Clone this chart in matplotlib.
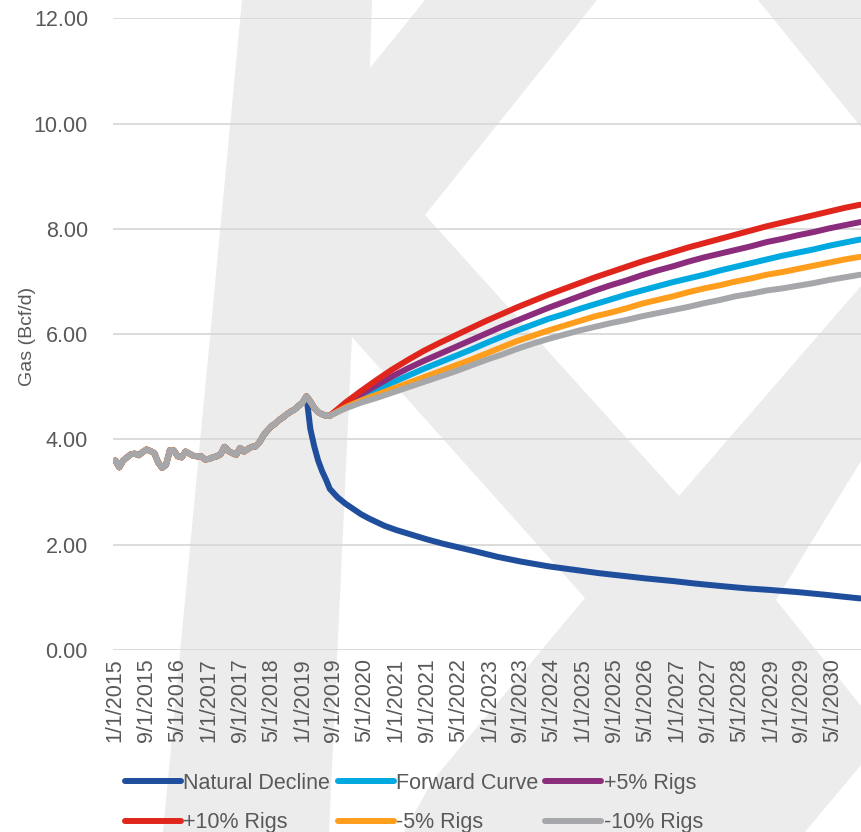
import matplotlib.pyplot as plt
from matplotlib.patches import Polygon, Rectangle
import pandas as pd

plt.rcParams['font.family'] = ['Liberation Sans', 'DejaVu Sans']

TEXT = '#595959'

# monthly categories Jan 2015 .. Dec 2030
months = pd.date_range('2015-01-01', '2030-12-01', freq='MS')

# actual production, Jan 2015 .. Jul 2019 (one value per month)
history = [3.60, 3.47, 3.60, 3.66, 3.72, 3.73, 3.70, 3.76, 3.81, 3.78,
           3.74, 3.56, 3.46, 3.52, 3.80, 3.79, 3.68, 3.66, 3.77, 3.73,
           3.69, 3.68, 3.68, 3.62, 3.63, 3.66, 3.68, 3.72, 3.86, 3.78,
           3.74, 3.71, 3.84, 3.77, 3.82, 3.86, 3.87, 3.95, 4.08, 4.17,
           4.25, 4.30, 4.37, 4.42, 4.48, 4.53, 4.57, 4.64, 4.70, 4.82,
           4.72, 4.60, 4.52, 4.48, 4.45]

# rig scenarios, every 4th month from Aug 2019
fc_months = list(range(55, 192, 4))
plus10 = [4.45, 4.70, 4.92, 5.13, 5.33, 5.51, 5.68, 5.83, 5.97, 6.11,
          6.25, 6.38, 6.51, 6.63, 6.75, 6.86, 6.97, 7.08, 7.18, 7.28,
          7.38, 7.47, 7.56, 7.65, 7.73, 7.81, 7.89, 7.97, 8.05, 8.12,
          8.19, 8.26, 8.33, 8.40, 8.46]
plus5 = [4.45, 4.67, 4.86, 5.03, 5.20, 5.35, 5.49, 5.62, 5.75, 5.88,
         6.01, 6.14, 6.26, 6.38, 6.50, 6.61, 6.72, 6.83, 6.93, 7.02,
         7.12, 7.21, 7.29, 7.38, 7.46, 7.53, 7.60, 7.67, 7.75, 7.81,
         7.88, 7.94, 8.01, 8.07, 8.13]
forward_curve = [4.45, 4.64, 4.80, 4.94, 5.08, 5.21, 5.34, 5.46, 5.58, 5.70,
                 5.83, 5.95, 6.07, 6.18, 6.29, 6.38, 6.48, 6.57, 6.66, 6.75,
                 6.83, 6.91, 6.99, 7.06, 7.13, 7.21, 7.28, 7.35, 7.42, 7.49,
                 7.55, 7.61, 7.68, 7.74, 7.80]
minus5 = [4.45, 4.61, 4.74, 4.85, 4.96, 5.07, 5.18, 5.29, 5.40, 5.51,
          5.63, 5.75, 5.87, 5.97, 6.07, 6.16, 6.25, 6.34, 6.41, 6.49,
          6.58, 6.65, 6.72, 6.80, 6.87, 6.93, 7.00, 7.06, 7.13, 7.18,
          7.24, 7.30, 7.36, 7.42, 7.47]
minus10 = [4.45, 4.59, 4.70, 4.79, 4.89, 4.99, 5.09, 5.19, 5.29, 5.40,
           5.51, 5.61, 5.72, 5.82, 5.91, 5.99, 6.07, 6.14, 6.21, 6.27,
           6.34, 6.40, 6.46, 6.52, 6.59, 6.65, 6.72, 6.77, 6.83, 6.87,
           6.92, 6.97, 7.03, 7.08, 7.13]

# no new wells after the Feb 2019 peak
nd_months = [49, 50, 51, 52, 53, 54, 55, 56, 57, 58, 59, 61, 63, 65, 67, 69,
             72, 76, 80, 84, 88, 92, 98, 104, 111, 118, 124, 130, 136, 143,
             149, 156, 162, 168, 175, 182, 187, 191]
natural_decline = [4.82, 4.20, 3.87, 3.60, 3.40, 3.24, 3.06, 2.98, 2.90, 2.84,
                   2.78, 2.68, 2.58, 2.50, 2.43, 2.36, 2.28, 2.19, 2.10, 2.02,
                   1.95, 1.88, 1.77, 1.68, 1.59, 1.52, 1.46, 1.41, 1.36, 1.31,
                   1.26, 1.21, 1.17, 1.14, 1.10, 1.05, 1.01, 0.98]

names = ['Natural Decline', 'Forward Curve', '+5% Rigs',
         '+10% Rigs', '-5% Rigs', '-10% Rigs']
colors = ['#1f4e9d', '#00a9e0', '#8b2d7c', '#e0261c', '#ff9d1c', '#a5a7aa']

fig = plt.figure(figsize=(8.61, 8.32), dpi=100)

# faint logo behind the plot
bg = fig.add_axes([0, 0, 1, 1], zorder=-1)
bg.set_xlim(0, 861)
bg.set_ylim(832, 0)
bg.axis('off')
bg.add_patch(Rectangle((0, 0), 861, 832, color='#ececec', lw=0))
white_parts = [
    [(0, 0), (242, 0), (163, 832), (0, 832)],
    [(372, 0), (425, 0), (370, 68)],
    [(597, 0), (758, 0), (861, 127), (861, 286), (679, 496), (425, 215)],
    [(352, 337), (585, 598), (433, 780), (404, 832), (329, 832)],
    [(776, 600), (861, 461), (861, 706)],
    [(805, 832), (861, 832), (861, 765)],
]
for pts in white_parts:
    bg.add_patch(Polygon(pts, closed=True, color='white', lw=0))

ax = fig.add_axes([113 / 861, 182 / 832, 748 / 861, 631.6 / 832])
ax.set_facecolor('none')

series = [forward_curve, plus5, plus10, minus5, minus10]
hist_x = list(range(len(history)))
lines = []
l, = ax.plot(nd_months, natural_decline, color=colors[0], lw=4.3,
             solid_capstyle='round', solid_joinstyle='round', label=names[0])
lines.append(l)
for vals, name, c in zip(series, names[1:], colors[1:]):
    l, = ax.plot(hist_x + fc_months, history + vals, color=c, lw=4.3,
                 solid_capstyle='round', solid_joinstyle='round', label=name)
    lines.append(l)

ax.set_xlim(-0.6, 191.2)
ax.set_ylim(0, 12)
ax.set_yticks(range(0, 13, 2))
ax.set_yticklabels([f'{v:.2f}' for v in range(0, 13, 2)])
tick_pos = list(range(0, len(months), 8))
ax.set_xticks(tick_pos)
ax.set_xticklabels([f'{months[i].month}/1/{months[i].year}' for i in tick_pos],
                   rotation=90)
ax.grid(axis='y', color='#d9d9d9', lw=1.3)
ax.set_axisbelow(True)
for s in ax.spines.values():
    s.set_visible(False)
ax.tick_params(axis='both', length=0, labelsize=15.5, labelcolor=TEXT)
ax.tick_params(axis='x', pad=6)
ax.tick_params(axis='y', pad=18)

fig.text(28 / 861, 1 - 336 / 832, 'Gas (Bcf/d)', rotation=90, ha='center',
         va='center', fontsize=14, color=TEXT)

# legend filled row by row
order = [0, 3, 1, 4, 2, 5]
fig.legend([lines[i] for i in order], [names[i] for i in order],
           loc='upper left', bbox_to_anchor=(125 / 861, 1 - 773 / 832),
           ncol=3, frameon=False, fontsize=15.5, labelcolor=TEXT,
           handlelength=2.6, handletextpad=0.1, columnspacing=0.35,
           labelspacing=0.85, borderpad=0, borderaxespad=0)

fig.savefig('out.png', dpi=100)
